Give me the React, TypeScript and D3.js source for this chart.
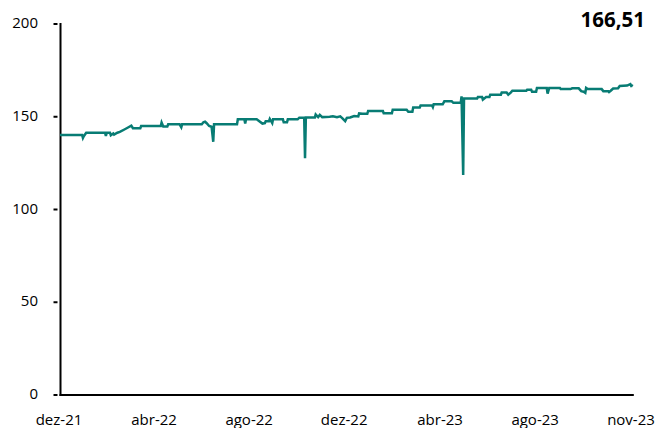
import React from "react";
import * as d3 from "d3";

const dates: string[] = [
  "2021-12-29","2022-01-25","2022-01-26","2022-01-27","2022-01-30","2022-02-22","2022-02-23","2022-02-24",
  "2022-02-28","2022-03-01","2022-03-04","2022-03-05","2022-03-09","2022-03-12","2022-03-17","2022-03-22",
  "2022-03-26","2022-03-28","2022-04-06","2022-04-07","2022-05-01","2022-05-02","2022-05-04","2022-05-09",
  "2022-05-10","2022-05-24","2022-05-26","2022-05-27","2022-06-20","2022-06-22","2022-06-24","2022-06-26",
  "2022-06-29","2022-07-02","2022-07-04","2022-07-05","2022-08-02","2022-08-03","2022-08-11","2022-08-12",
  "2022-08-13","2022-08-26","2022-09-02","2022-09-05","2022-09-06","2022-09-10","2022-09-11","2022-09-14",
  "2022-09-15","2022-09-27","2022-09-28","2022-10-02","2022-10-03","2022-10-15","2022-10-17","2022-10-23",
  "2022-10-24","2022-10-25","2022-11-05","2022-11-06","2022-11-09","2022-11-11","2022-11-14","2022-11-23",
  "2022-11-27","2022-12-02","2022-12-06","2022-12-09","2022-12-12","2022-12-14","2022-12-18","2022-12-23",
  "2022-12-28","2022-12-29","2023-01-02","2023-01-08","2023-01-09","2023-01-27","2023-01-28","2023-02-07",
  "2023-02-08","2023-02-25","2023-02-27","2023-03-04","2023-03-05","2023-03-13","2023-03-14","2023-03-28",
  "2023-03-29","2023-03-30","2023-04-10","2023-04-12","2023-04-21","2023-04-23","2023-05-02","2023-05-03",
  "2023-05-05","2023-05-06","2023-05-22","2023-05-23","2023-05-28","2023-05-29","2023-06-02","2023-06-06",
  "2023-06-07","2023-06-20","2023-06-21","2023-06-27","2023-06-29","2023-07-02","2023-07-04","2023-07-21",
  "2023-07-22","2023-07-27","2023-07-28","2023-08-02","2023-08-03","2023-08-15","2023-08-16","2023-08-18",
  "2023-08-31","2023-09-01","2023-09-13","2023-09-15","2023-09-23","2023-09-26","2023-09-29","2023-10-01",
  "2023-10-02","2023-10-04","2023-10-21","2023-10-23","2023-10-29","2023-10-30","2023-11-01","2023-11-04",
  "2023-11-10","2023-11-12","2023-11-21","2023-11-25","2023-11-26","2023-11-27","2023-11-28",
];

const values: number[] = [
  140.2,140.2,138.6,139.5,141.4,141.4,139.6,141.4,
  141.4,140.0,141.0,140.4,141.4,141.8,143.0,144.2,
  145.2,143.8,143.8,145.0,145.0,146.9,144.8,144.8,
  145.9,145.9,144.3,145.9,145.9,147.0,147.3,146.5,
  145.0,144.6,136.5,145.9,145.9,148.6,148.6,146.4,
  148.6,148.6,146.3,146.6,147.6,147.6,148.8,146.6,
  148.6,148.6,147.0,147.0,148.6,148.6,149.5,149.5,
  127.7,149.6,149.6,151.2,149.8,151.0,149.8,150.0,
  150.2,149.7,150.2,149.0,147.6,149.4,149.6,150.4,
  150.2,151.8,151.6,151.6,153.1,153.1,151.9,151.9,
  153.8,153.8,152.7,152.7,155.0,155.0,156.1,156.1,
  155.2,156.7,156.7,158.3,158.3,157.5,157.5,161.0,
  118.6,159.8,159.8,160.7,160.7,159.2,160.6,160.6,
  161.9,161.9,163.1,163.1,161.9,163.0,164.0,164.0,
  164.5,164.5,163.5,163.5,165.5,165.5,162.5,165.5,
  165.5,164.9,164.9,165.3,165.3,163.8,163.5,162.9,
  165.5,164.9,164.9,163.8,163.8,163.3,164.0,165.2,
  165.4,166.6,166.8,167.6,166.6,166.8,166.51,
];

const yTicks: number[] = [0, 50, 100, 150, 200];
const xTickDates: string[] = ["2021-12-29","2022-04-24","2022-08-18","2022-12-12","2023-04-08","2023-08-02","2023-11-27"];
const xTickLabels: string[] = ["dez-21","abr-22","ago-22","dez-22","abr-23","ago-23","nov-23"];
const lastLabel = "166,51";

const W = 660;
const H = 428;
const FONT = "'Open Sans', 'Noto Sans', sans-serif";

export default function App() {
  const parse = d3.utcParse("%Y-%m-%d");
  const data = dates.map((d, i) => ({ date: parse(d) as Date, value: values[i] }));

  const x = d3
    .scaleUtc()
    .domain([parse("2021-12-29") as Date, parse("2023-11-27") as Date])
    .range([60, 632]);
  const y = d3.scaleLinear().domain([0, 200]).range([395, 24]);

  const line = d3
    .line<{ date: Date; value: number }>()
    .x((d) => x(d.date))
    .y((d) => y(d.value));

  const axisX0 = 60.5;
  const axisXEnd = x(parse("2023-11-28") as Date) + 1;

  return (
    <div style={{ position: "absolute", left: 0, top: 0 }}>
      <svg width={W} height={H} style={{ display: "block", background: "#fff" }}>
        {/* y axis */}
        <line x1={axisX0} x2={axisX0} y1={y(200) - 1} y2={y(0) + 1} stroke="#000" strokeWidth={2} />
        {yTicks.map((t) => (
          <g key={t}>
            <line x1={53.5} x2={57.5} y1={y(t)} y2={y(t)} stroke="#000" strokeWidth={2} />
            <text
              x={38}
              y={y(t) + 4}
              textAnchor="end"
              fontFamily={FONT}
              fontSize={15}
              fill="#000"
            >
              {t}
            </text>
          </g>
        ))}
        {/* x axis */}
        <line x1={axisX0 - 1} x2={axisXEnd} y1={y(0)} y2={y(0)} stroke="#000" strokeWidth={2} />
        {xTickDates.map((d, i) => (
          <text
            key={d}
            x={x(parse(d) as Date) - 1}
            y={425}
            textAnchor="middle"
            fontFamily={FONT}
            fontSize={15}
            fill="#000"
          >
            {xTickLabels[i]}
          </text>
        ))}
        {/* series */}
        <path d={line(data) || ""} fill="none" stroke="#087C74" strokeWidth={2.5} strokeLinejoin="miter" />
        {/* last value label */}
        <text
          x={645}
          y={26.5}
          textAnchor="end"
          fontFamily={FONT}
          fontSize={20.5}
          fontWeight="bold"
          fill="#000"
        >
          {lastLabel}
        </text>
      </svg>
    </div>
  );
}
